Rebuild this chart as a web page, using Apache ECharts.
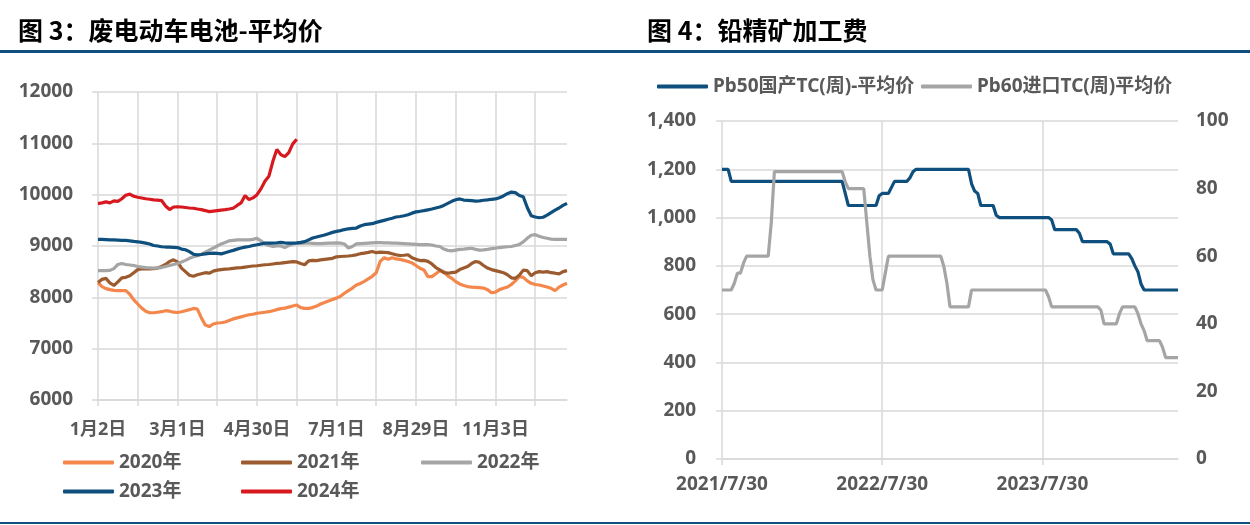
<!DOCTYPE html>
<html><head><meta charset="utf-8">
<script src="https://cdn.jsdelivr.net/npm/echarts@6/dist/echarts.min.js"></script>
<style>html,body{margin:0;padding:0;background:#fff}#c{width:1250px;height:525px}</style>
</head><body><div id="c"></div>
<script>
// ---------- Left chart: 废电动车电池-平均价 ----------
const leftTickLabels = ['1月2日','3月1日','4月30日','7月1日','8月29日','11月3日'];
const leftCount = 119;
const s2020 = [8287,8210,8170,8150,8135,8130,8130,8130,8060,7950,
 7870,7790,7730,7700,7700,7710,7720,7740,7730,7710,
 7705,7720,7740,7760,7784,7770,7600,7460,7430,7480,
 7500,7505,7520,7550,7580,7600,7620,7640,7660,7670,
 7690,7700,7710,7720,7740,7760,7780,7790,7810,7830,
 7850,7800,7784,7784,7800,7830,7870,7900,7930,7960,
 7985,8020,8080,8130,8180,8240,8270,8310,8360,8410,
 8480,8700,8770,8740,8770,8750,8740,8720,8697,8670,
 8620,8567,8534,8404,8404,8460,8520,8500,8420,8371,
 8306,8260,8230,8210,8200,8195,8190,8180,8150,8090,
 8100,8150,8176,8200,8250,8320,8404,8390,8320,8273,
 8250,8240,8221,8200,8176,8130,8200,8240,8273];
const s2021 = [8290,8350,8370,8280,8230,8300,8380,8390,8420,8480,
 8540,8560,8555,8555,8560,8570,8600,8640,8700,8730,
 8690,8570,8500,8430,8410,8440,8460,8480,8470,8510,
 8530,8540,8550,8555,8565,8575,8580,8590,8600,8610,
 8615,8625,8635,8640,8650,8660,8665,8675,8685,8695,
 8690,8660,8635,8710,8720,8715,8730,8740,8750,8760,
 8790,8795,8800,8805,8815,8828,8850,8860,8875,8893,
 8870,8880,8875,8870,8850,8828,8815,8820,8830,8770,
 8740,8717,8720,8700,8650,8580,8534,8480,8470,8482,
 8490,8540,8570,8600,8660,8697,8680,8620,8570,8540,
 8520,8500,8480,8440,8380,8370,8430,8530,8520,8420,
 8480,8500,8490,8500,8480,8470,8456,8500,8520];
const s2022 = [8520,8520,8520,8525,8560,8640,8660,8640,8630,8620,
 8600,8590,8580,8575,8570,8575,8580,8600,8620,8640,
 8660,8690,8720,8760,8790,8810,8840,8880,8920,8960,
 9000,9040,9070,9100,9110,9120,9120,9120,9120,9130,
 9150,9100,9040,9010,8990,9000,9000,8970,9010,9040,
 9050,9050,9055,9055,9050,9045,9045,9050,9055,9055,
 9060,9055,9040,8960,8990,9040,9045,9050,9055,9060,
 9065,9065,9060,9060,9055,9055,9050,9045,9040,9035,
 9030,9025,9025,9025,9020,9000,8990,8940,8915,8905,
 8920,8935,8940,8950,8955,8935,8920,8925,8935,8950,
 8958,8970,8978,8985,8990,9010,9030,9080,9150,9210,
 9220,9190,9165,9150,9135,9130,9130,9130,9130];
const s2023 = [9130,9130,9125,9120,9120,9115,9110,9108,9100,9090,
 9082,9070,9056,9040,9010,9000,8985,8980,8978,8975,
 8970,8940,8926,8890,8840,8828,8835,8847,8855,8860,
 8855,8847,8870,8893,8915,8939,8960,8978,8991,9010,
 9024,9040,9056,9056,9056,9060,9069,9060,9056,9056,
 9060,9070,9085,9120,9155,9175,9195,9215,9240,9265,
 9285,9300,9320,9335,9345,9350,9390,9415,9425,9435,
 9460,9480,9500,9520,9540,9565,9575,9590,9610,9640,
 9665,9676,9690,9705,9720,9740,9760,9790,9830,9870,
 9900,9917,9895,9890,9884,9875,9880,9891,9900,9910,
 9917,9940,9975,10020,10050,10040,9985,9960,9750,9590,
 9565,9550,9560,9600,9650,9700,9740,9790,9830];
const s2024 = [9826,9840,9860,9840,9880,9870,9920,9990,10010,9970,
 9950,9935,9920,9910,9900,9895,9885,9780,9710,9760,
 9765,9760,9750,9740,9735,9720,9708,9690,9669,9680,
 9690,9700,9708,9720,9735,9790,9839,9982,9904,9937,
 10000,10113,10263,10360,10650,10880,10780,10740,10820,10990,11080];

// ---------- Right chart: 铅精矿加工费 ----------
const rightTickLabels = ['2021/7/30','2022/7/30','2023/7/30'];
const pb50 = [1200,1200,1200,1150,1150,1150,1150,1150,1150,1150,
 1150,1150,1150,1150,1150,1150,1150,1150,1150,1150,
 1150,1150,1150,1150,1150,1150,1150,1150,1150,1150,
 1150,1150,1150,1150,1150,1150,1150,1150,1150,1150,
 1100,1050,1050,1050,1050,1050,1050,1050,1050,1050,
 1050,1090,1100,1100,1100,1125,1150,1150,1150,1150,
 1150,1165,1190,1200,1200,1200,1200,1200,1200,1200,
 1200,1200,1200,1200,1200,1200,1200,1200,1200,1200,
 1200,1140,1110,1100,1050,1050,1050,1050,1050,1010,
 1000,1000,1000,1000,1000,1000,1000,1000,1000,1000,
 1000,1000,1000,1000,1000,1000,1000,990,950,950,
 950,950,950,950,950,950,935,900,900,900,
 900,900,900,900,900,900,890,850,850,850,
 850,850,850,830,800,775,725,700,700,700,
 700,700,700,700,700,700,700,700,700];
const pb60 = [50,50,50,50,52,55,55,58,60,60,
 60,60,60,60,60,60,70,85,85,85,
 85,85,85,85,85,85,85,85,85,85,
 85,85,85,85,85,85,85,85,85,85,
 82,80,80,80,80,80,80,70,60,53,
 50,50,50,55,60,60,60,60,60,60,
 60,60,60,60,60,60,60,60,60,60,
 60,60,57,52,45,45,45,45,45,45,
 45,50,50,50,50,50,50,50,50,50,
 50,50,50,50,50,50,50,50,50,50,
 50,50,50,50,50,50,48,45,45,45,
 45,45,45,45,45,45,45,45,45,45,
 45,45,45,44,40,40,40,40,40,43,
 45,45,45,45,45,43,40,38,35,35,
 35,35,35,33,30,30,30,30,30];

[s2020,s2021,s2022,s2023].forEach((a,k)=>{ if(a.length!==leftCount) throw new Error('left series '+k+' length '+a.length); });
if (pb50.length !== pb60.length) throw new Error('right lengths '+pb50.length+' '+pb60.length);

// category axes built from the tick labels / weekly dates
const leftCats = [];
for (let i = 0; i < leftCount; i++) leftCats.push(i % 20 === 0 ? leftTickLabels[i / 20] : 'd' + i);
const rightCats = [];
{ const d0 = new Date(2021, 6, 30);
  for (let i = 0; i < pb50.length; i++) {
    const d = new Date(d0.getTime() + i * 7 * 86400000);
    rightCats.push(d.getFullYear() + '/' + (d.getMonth() + 1) + '/' + d.getDate());
  } }

const GRID = '#D9D9D9', TXT = '#595959';
const FONT = "'Noto Sans','Noto Sans CJK SC',sans-serif";
const lbl = (size, extra) => Object.assign({color: TXT, fontSize: size, fontWeight: 'bold', fontFamily: FONT}, extra || {});
const gl = {color: GRID, width: 1.5};
const C = {y2020: '#F4874B', y2021: '#9C5B2E', y2022: '#A5A5A5', y2023: '#0E4F7E', y2024: '#D7191F'};

function lineSeries(name, data, color, xi, yi) {
  return {name, type: 'line', data, xAxisIndex: xi, yAxisIndex: yi, symbol: 'none', showSymbol: false,
    lineStyle: {width: 3.2, color}, itemStyle: {color}, emphasis: {disabled: true}, z: 3};
}
function legendAt(name, left, top) {
  return {data: [name], left, top, padding: 0, itemWidth: 51, itemHeight: 4, itemGap: 0,
    icon: 'roundRect', selectedMode: false, textStyle: lbl(19)};
}

const chart = echarts.init(document.getElementById('c'));
chart.setOption({
  animation: false,
  backgroundColor: '#fff',
  title: [
    {text: '图 3：废电动车电池-平均价', left: 18, top: 18, padding: 0,
     textStyle: {fontSize: 25, fontWeight: 'bold', color: '#000', fontFamily: "'Noto Sans CJK SC',sans-serif"}},
    {text: '图 4：铅精矿加工费', left: 647, top: 18, padding: 0,
     textStyle: {fontSize: 25, fontWeight: 'bold', color: '#000', fontFamily: "'Noto Sans CJK SC',sans-serif"}}
  ],
  graphic: [
    {type: 'rect', shape: {x: 0, y: 50, width: 1250, height: 3}, style: {fill: '#0F5080'}, silent: true},
    {type: 'rect', shape: {x: 0, y: 522, width: 1250, height: 2}, style: {fill: '#0F5080'}, silent: true}
  ],
  legend: [
    legendAt('2020年', 63, 453), legendAt('2021年', 241, 453), legendAt('2022年', 421, 453),
    legendAt('2023年', 63, 482), legendAt('2024年', 241, 482),
    legendAt('Pb50国产TC(周)-平均价', 657, 77), legendAt('Pb60进口TC(周)平均价', 921, 77)
  ],
  grid: [
    {left: 98, top: 92, width: 469, height: 308, outerBoundsMode: 'none'},
    {left: 722, top: 121, width: 456, height: 338, outerBoundsMode: 'none'}
  ],
  xAxis: [
    {type: 'category', gridIndex: 0, data: leftCats, boundaryGap: false,
     axisLine: {show: true, lineStyle: gl},
     axisTick: {show: true, length: 6, interval: (i) => i % 10 === 0, lineStyle: gl},
     splitLine: {show: true, interval: (i) => i % 10 === 0, lineStyle: gl},
     axisLabel: lbl(18, {interval: (i) => i % 20 === 0, margin: 21})},
    {type: 'category', gridIndex: 1, data: rightCats, boundaryGap: false,
     axisLine: {show: true, lineStyle: gl},
     axisTick: {show: true, length: 6, interval: (i) => i % 52 === 0, lineStyle: gl},
     splitLine: {show: true, interval: (i) => i % 52 === 0, lineStyle: gl},
     axisLabel: lbl(19, {interval: (i) => i % 52 === 0, margin: 16,
       formatter: (v, i) => rightTickLabels[Math.round(i / 52)] || ''})}
  ],
  yAxis: [
    {type: 'value', gridIndex: 0, min: 6000, max: 12000, interval: 1000,
     axisLine: {show: false}, axisTick: {show: true, length: 6, lineStyle: gl},
     splitLine: {show: true, lineStyle: gl},
     axisLabel: lbl(19, {margin: 25, formatter: (v) => String(v)})},
    {type: 'value', gridIndex: 1, min: 0, max: 1400, interval: 200, position: 'left',
     axisLine: {show: false}, axisTick: {show: true, length: 6, lineStyle: gl},
     splitLine: {show: true, lineStyle: gl},
     axisLabel: lbl(19, {margin: 26, formatter: (v) => v.toLocaleString('en-US')})},
    {type: 'value', gridIndex: 1, min: 0, max: 100, interval: 20, position: 'right',
     axisLine: {show: false}, axisTick: {show: false}, splitLine: {show: false},
     axisLabel: lbl(19, {margin: 18})}
  ],
  series: [
    lineSeries('2020年', s2020, C.y2020, 0, 0),
    lineSeries('2021年', s2021, C.y2021, 0, 0),
    lineSeries('2022年', s2022, C.y2022, 0, 0),
    lineSeries('2023年', s2023, C.y2023, 0, 0),
    lineSeries('2024年', s2024, C.y2024, 0, 0),
    lineSeries('Pb50国产TC(周)-平均价', pb50, C.y2023, 1, 1),
    lineSeries('Pb60进口TC(周)平均价', pb60, C.y2022, 1, 2)
  ]
});
</script></body></html>
